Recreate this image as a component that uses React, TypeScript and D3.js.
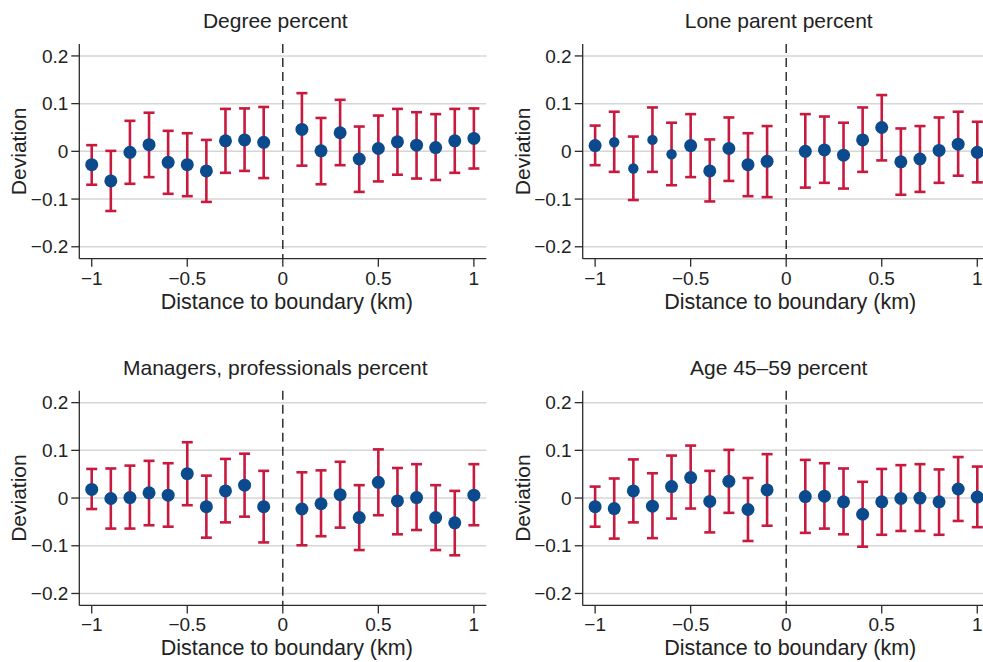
import React, { useRef, useEffect } from "react";
import * as d3 from "d3";

// distance bins (km), boundary at 0
const distances = [
  -1, -0.9, -0.8, -0.7, -0.6, -0.5, -0.4, -0.3, -0.2, -0.1,
  0.1, 0.2, 0.3, 0.4, 0.5, 0.6, 0.7, 0.8, 0.9, 1,
];

const degreeEst = [-0.028, -0.062, -0.002, 0.014, -0.023, -0.028, -0.041, 0.022, 0.024, 0.019, 0.046, 0.001, 0.039, -0.016, 0.006, 0.02, 0.013, 0.008, 0.022, 0.027];
const degreeHi = [0.013, 0.001, 0.064, 0.081, 0.043, 0.038, 0.024, 0.089, 0.09, 0.093, 0.122, 0.07, 0.108, 0.052, 0.075, 0.089, 0.082, 0.078, 0.089, 0.09];
const degreeLo = [-0.07, -0.125, -0.068, -0.054, -0.089, -0.094, -0.106, -0.045, -0.041, -0.056, -0.03, -0.069, -0.029, -0.085, -0.063, -0.049, -0.057, -0.06, -0.045, -0.036];

const loneEst = [0.012, 0.019, -0.036, 0.024, -0.006, 0.012, -0.041, 0.006, -0.028, -0.021, 0.0, 0.003, -0.008, 0.024, 0.05, -0.022, -0.016, 0.002, 0.015, -0.002];
const loneHi = [0.054, 0.083, 0.031, 0.092, 0.06, 0.078, 0.025, 0.071, 0.038, 0.053, 0.078, 0.073, 0.06, 0.092, 0.118, 0.048, 0.053, 0.071, 0.083, 0.062];
const loneLo = [-0.029, -0.043, -0.102, -0.043, -0.071, -0.054, -0.105, -0.062, -0.094, -0.096, -0.076, -0.066, -0.078, -0.043, -0.019, -0.091, -0.085, -0.066, -0.051, -0.065];
// bins drawn with a smaller marker in the lone parent panel
const loneSmallBins = [-0.9, -0.8, -0.7, -0.6];

const managersEst = [0.018, -0.001, 0.001, 0.011, 0.006, 0.051, -0.018, 0.015, 0.027, -0.018, -0.023, -0.012, 0.007, -0.041, 0.033, -0.006, 0.001, -0.041, -0.052, 0.006];
const managersHi = [0.061, 0.062, 0.068, 0.078, 0.073, 0.117, 0.047, 0.082, 0.093, 0.057, 0.054, 0.058, 0.076, 0.027, 0.102, 0.063, 0.071, 0.027, 0.015, 0.071];
const managersLo = [-0.023, -0.064, -0.064, -0.057, -0.06, -0.015, -0.083, -0.051, -0.039, -0.093, -0.099, -0.08, -0.062, -0.109, -0.036, -0.076, -0.067, -0.109, -0.12, -0.057];

const ageEst = [-0.018, -0.022, 0.015, -0.017, 0.024, 0.043, -0.007, 0.035, -0.024, 0.017, 0.003, 0.004, -0.008, -0.034, -0.008, -0.001, 0.0, -0.008, 0.019, 0.002];
const ageHi = [0.024, 0.041, 0.081, 0.052, 0.089, 0.11, 0.057, 0.101, 0.042, 0.092, 0.08, 0.073, 0.062, 0.034, 0.061, 0.069, 0.071, 0.06, 0.086, 0.066];
const ageLo = [-0.06, -0.085, -0.051, -0.084, -0.043, -0.022, -0.072, -0.031, -0.09, -0.058, -0.073, -0.064, -0.076, -0.102, -0.077, -0.069, -0.069, -0.077, -0.048, -0.061];

const yTicks = [-0.2, -0.1, 0, 0.1, 0.2];
const xTicks = [-1, -0.5, 0, 0.5, 1];

const App = () => {
  const ref = useRef(null);

  useEffect(() => {
    const width = 983;
    const height = 662;
    const plotW = 407;
    const plotH = 214.7;
    const font = "'Liberation Sans', Arial, Helvetica, sans-serif";
    const blue = "#0b4a8c";
    const red = "#c8193f";
    const axisColor = "#2b2b2b";

    const panels = [
      { title: "Degree percent", est: degreeEst, lo: degreeLo, hi: degreeHi, left: 79.3, top: 44, small: [] },
      { title: "Lone parent percent", est: loneEst, lo: loneLo, hi: loneHi, left: 582.7, top: 44, small: loneSmallBins },
      { title: "Managers, professionals percent", est: managersEst, lo: managersLo, hi: managersHi, left: 79.3, top: 390.7, small: [] },
      { title: "Age 45\u201359 percent", est: ageEst, lo: ageLo, hi: ageHi, left: 582.7, top: 390.7, small: [] },
    ];

    const root = d3.select(ref.current);
    root.selectAll("*").remove();

    const svg = root
      .append("svg")
      .attr("width", width)
      .attr("height", height)
      .style("position", "fixed")
      .style("left", 0)
      .style("top", 0)
      .style("background", "#fff")
      .style("font-family", font);

    const fmt = (v) => (v === 0 ? "0" : d3.format("")(v).replace("-", "\u2212"));

    panels.forEach((p) => {
      const x = d3.scaleLinear().domain([-1.065, 1.065]).range([p.left, p.left + plotW]);
      const y = d3.scaleLinear().domain([-0.225, 0.225]).range([p.top + plotH, p.top]);
      const g = svg.append("g");
      const bottom = p.top + plotH;

      // grid lines
      g.selectAll("line.grid")
        .data(yTicks)
        .enter()
        .append("line")
        .attr("x1", p.left)
        .attr("x2", p.left + plotW)
        .attr("y1", (d) => y(d))
        .attr("y2", (d) => y(d))
        .attr("stroke", "#d6d6d6")
        .attr("stroke-width", 1.5);

      // boundary line
      g.append("line")
        .attr("x1", x(0))
        .attr("x2", x(0))
        .attr("y1", p.top)
        .attr("y2", bottom)
        .attr("stroke", "#222")
        .attr("stroke-width", 1.4)
        .attr("stroke-dasharray", "9,5");

      // axes
      g.append("line")
        .attr("x1", p.left).attr("x2", p.left)
        .attr("y1", p.top).attr("y2", bottom)
        .attr("stroke", axisColor).attr("stroke-width", 1.3);
      g.append("line")
        .attr("x1", p.left).attr("x2", p.left + plotW)
        .attr("y1", bottom).attr("y2", bottom)
        .attr("stroke", axisColor).attr("stroke-width", 1.3);

      // y ticks
      g.selectAll("line.yt")
        .data(yTicks)
        .enter()
        .append("line")
        .attr("x1", p.left - 8)
        .attr("x2", p.left)
        .attr("y1", (d) => y(d))
        .attr("y2", (d) => y(d))
        .attr("stroke", axisColor)
        .attr("stroke-width", 1.3);
      g.selectAll("text.yt")
        .data(yTicks)
        .enter()
        .append("text")
        .attr("x", p.left - 11)
        .attr("y", (d) => y(d))
        .attr("dy", "0.35em")
        .attr("text-anchor", "end")
        .style("font-size", "19px")
        .style("fill", "#222")
        .text((d) => fmt(d));

      // x ticks
      g.selectAll("line.xt")
        .data(xTicks)
        .enter()
        .append("line")
        .attr("x1", (d) => x(d))
        .attr("x2", (d) => x(d))
        .attr("y1", bottom)
        .attr("y2", bottom + 8)
        .attr("stroke", axisColor)
        .attr("stroke-width", 1.3);
      g.selectAll("text.xt")
        .data(xTicks)
        .enter()
        .append("text")
        .attr("x", (d) => x(d))
        .attr("y", bottom + 26)
        .attr("text-anchor", "middle")
        .style("font-size", "19px")
        .style("fill", "#222")
        .text((d) => fmt(d));

      // titles
      g.append("text")
        .attr("x", p.left + 196)
        .attr("y", p.top - 16)
        .attr("text-anchor", "middle")
        .style("font-size", "21px")
        .style("fill", "#222")
        .text(p.title);
      g.append("text")
        .attr("x", x(0) + 4)
        .attr("y", bottom + 50)
        .attr("text-anchor", "middle")
        .style("font-size", "21.5px")
        .style("fill", "#222")
        .text("Distance to boundary (km)");
      g.append("text")
        .attr("transform", `translate(${p.left - 53},${y(0)}) rotate(-90)`)
        .attr("text-anchor", "middle")
        .style("font-size", "21px")
        .style("fill", "#222")
        .text("Deviation");

      const rows = distances.map((d, i) => ({ d, est: p.est[i], lo: p.lo[i], hi: p.hi[i] }));

      // error bars
      const bars = g.selectAll("g.bar").data(rows).enter().append("g");
      bars.append("line")
        .attr("x1", (r) => x(r.d)).attr("x2", (r) => x(r.d))
        .attr("y1", (r) => y(r.lo)).attr("y2", (r) => y(r.hi))
        .attr("stroke", red).attr("stroke-width", 2.6);
      bars.append("line")
        .attr("x1", (r) => x(r.d) - 5.5).attr("x2", (r) => x(r.d) + 5.5)
        .attr("y1", (r) => y(r.hi)).attr("y2", (r) => y(r.hi))
        .attr("stroke", red).attr("stroke-width", 2.6);
      bars.append("line")
        .attr("x1", (r) => x(r.d) - 5.5).attr("x2", (r) => x(r.d) + 5.5)
        .attr("y1", (r) => y(r.lo)).attr("y2", (r) => y(r.lo))
        .attr("stroke", red).attr("stroke-width", 2.6);

      // point estimates
      g.selectAll("circle")
        .data(rows)
        .enter()
        .append("circle")
        .attr("cx", (r) => x(r.d))
        .attr("cy", (r) => y(r.est))
        .attr("r", (r) => (p.small.includes(r.d) ? 5.2 : 6.5))
        .attr("fill", blue);
    });
  }, []);

  return <div ref={ref} />;
};

export default App;
